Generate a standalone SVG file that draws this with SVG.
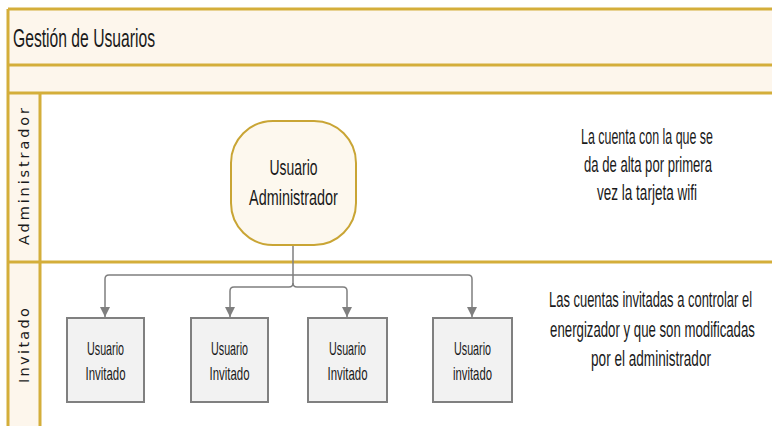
<svg xmlns="http://www.w3.org/2000/svg" width="772" height="426" viewBox="0 0 772 426">
<style>
.band{fill:#fdf6ec;stroke:none}
.gold{stroke:#d4ae3a;stroke-width:3;fill:none}
.t{font-family:"Liberation Sans",Arial,sans-serif;fill:#1a1a1a;text-anchor:middle}
.lane{font-family:"DejaVu Sans",Verdana,sans-serif;font-size:14.5px;fill:#1a1a1a}
.box{fill:#f2f2f2;stroke:#808080;stroke-width:2}
.conn{stroke:#7f7f7f;stroke-width:1.5;fill:none}
.s18{font-size:18px}
.s22{font-size:22px}
</style>
<defs>
<marker id="arr" markerWidth="10" markerHeight="10" refX="10" refY="5" orient="auto" markerUnits="userSpaceOnUse" viewBox="0 0 10 10">
<path d="M0,0 L10,5 L0,10 Z" fill="#7f7f7f"/>
</marker>
</defs>
<rect width="772" height="426" fill="#ffffff"/>
<g id="pool">
<rect class="band" x="8" y="9" width="770" height="84"/>
<rect class="band" x="8" y="93" width="32" height="340"/>
<line class="gold" x1="8" y1="9" x2="780" y2="9"/>
<line class="gold" x1="8" y1="65" x2="780" y2="65"/>
<line class="gold" x1="8" y1="93" x2="780" y2="93"/>
<line class="gold" x1="8" y1="262" x2="780" y2="262"/>
<line class="gold" x1="8" y1="9" x2="8" y2="430"/>
<line class="gold" x1="40" y1="93" x2="40" y2="430"/>
<text class="t" transform="translate(13,47) scale(0.615,1)" style="text-anchor:start;font-size:25.5px">Gestión de Usuarios</text>
<text class="lane" transform="translate(29,176.5) rotate(-90)" text-anchor="middle" textLength="137" lengthAdjust="spacing">Administrador</text>
<text class="lane" transform="translate(29,345.5) rotate(-90)" text-anchor="middle" textLength="75" lengthAdjust="spacing">Invitado</text>
</g>
<g id="connectors">
<path class="conn" d="M293,245 V275"/>
<path class="conn" d="M293,275 H109 Q105,275 105,279 V317" marker-end="url(#arr)"/>
<path class="conn" d="M293,275 H468 Q472,275 472,279 V317" marker-end="url(#arr)"/>
<path class="conn" d="M293,275 V283 Q293,287 289,287 H234 Q230,287 230,291 V317" marker-end="url(#arr)"/>
<path class="conn" d="M293,283 Q293,287 297,287 H343 Q347,287 347,291 V317" marker-end="url(#arr)"/>
</g>
<g id="admin">
<rect x="231" y="121" width="125" height="124" rx="42" ry="42" fill="#fdf8ee" stroke="#c9a535" stroke-width="2"/>
<text class="t s22" transform="translate(293.5,175) scale(0.634,1)">Usuario</text>
<text class="t s22" transform="translate(293.5,205) scale(0.655,1)">Administrador</text>
</g>
<g id="inv1">
<rect class="box" x="67" y="318" width="77" height="84"/>
<text class="t s18" transform="translate(105.5,355) scale(0.597,1)">Usuario</text>
<text class="t s18" transform="translate(105.5,380) scale(0.635,1)">Invitado</text>
</g>
<g id="inv2">
<rect class="box" x="191" y="318" width="77" height="84"/>
<text class="t s18" transform="translate(229.5,355) scale(0.597,1)">Usuario</text>
<text class="t s18" transform="translate(229.5,380) scale(0.635,1)">Invitado</text>
</g>
<g id="inv3">
<rect class="box" x="308" y="318" width="79" height="84"/>
<text class="t s18" transform="translate(347.5,355) scale(0.597,1)">Usuario</text>
<text class="t s18" transform="translate(347.5,380) scale(0.635,1)">Invitado</text>
</g>
<g id="inv4">
<rect class="box" x="433" y="318" width="79" height="84"/>
<text class="t s18" transform="translate(472.5,355) scale(0.597,1)">Usuario</text>
<text class="t s18" transform="translate(472.5,380) scale(0.629,1)">invitado</text>
</g>
<g id="note-admin">
<text class="t s22" transform="translate(647,144) scale(0.565,1)">La cuenta con la que se</text>
<text class="t s22" transform="translate(648,172) scale(0.595,1)">da de alta por primera</text>
<text class="t s22" transform="translate(647,200) scale(0.615,1)">vez la tarjeta wifi</text>
</g>
<g id="note-invitado">
<text class="t s22" transform="translate(650.5,307) scale(0.589,1)">Las cuentas invitadas a controlar el</text>
<text class="t s22" transform="translate(652.5,337) scale(0.601,1)">energizador y que son modificadas</text>
<text class="t s22" transform="translate(651,366) scale(0.617,1)">por el administrador</text>
</g>
</svg>
